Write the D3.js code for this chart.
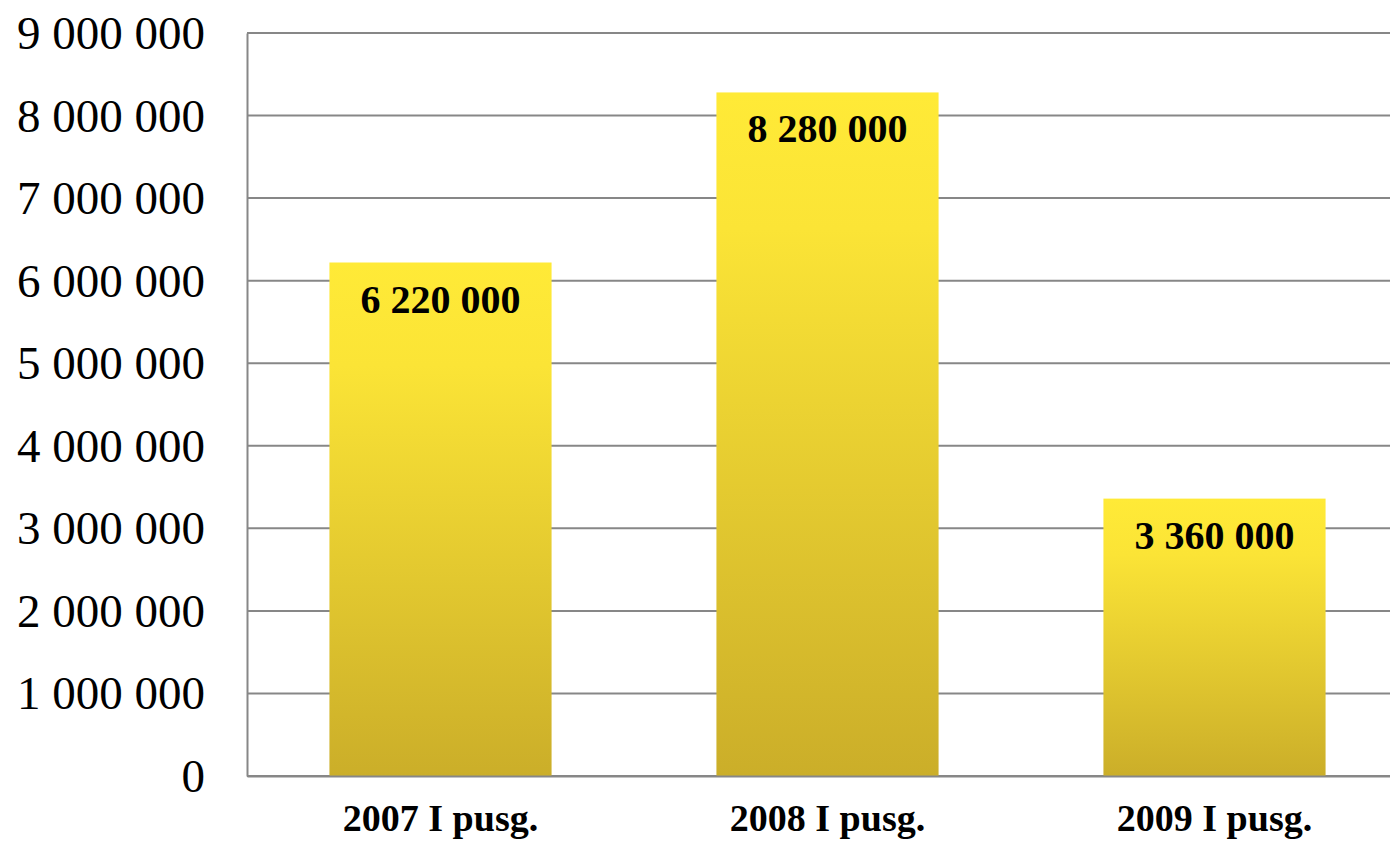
<!DOCTYPE html>
<html>
<head>
<meta charset="utf-8">
<script src="https://cdn.jsdelivr.net/npm/d3@7"></script>
<style>
  body { margin: 0; background: #fff; }
  svg { display: block; font-family: "Liberation Serif", "Times New Roman", serif; }
</style>
</head>
<body>
<div id="chart"></div>
<script>
const categories = ["2007 I pusg.", "2008 I pusg.", "2009 I pusg."];
const values = [6220000, 8280000, 3360000];
const yTicks = [0, 1000000, 2000000, 3000000, 4000000, 5000000, 6000000, 7000000, 8000000, 9000000];

const fullWidth = 1390;
const fullHeight = 858;
const margin = { top: 33, right: 0, bottom: 82, left: 247 };
const width = 1161; // plot runs a bit past the right edge, as in the original
const height = fullHeight - margin.top - margin.bottom;

// thousands separated by spaces
const fmt = v => d3.format(",")(v).replace(/,/g, " ");

const root = d3.select("#chart")
  .append("svg")
  .attr("width", fullWidth)
  .attr("height", fullHeight);

const grad = root.append("defs")
  .append("linearGradient")
  .attr("id", "barFill")
  .attr("x1", 0).attr("y1", 0).attr("x2", 0).attr("y2", 1);
grad.append("stop").attr("offset", "0%").attr("stop-color", "#ffea37");
grad.append("stop").attr("offset", "20%").attr("stop-color", "#fbe436");
grad.append("stop").attr("offset", "100%").attr("stop-color", "#cbae29");

const svg = root.append("g")
  .attr("transform", `translate(${margin.left},${margin.top})`);

const x = d3.scaleBand()
  .domain(categories)
  .range([0, width])
  .paddingInner(0.426)
  .paddingOuter(0.213);

const y = d3.scaleLinear()
  .domain([0, 9000000])
  .range([height, 0]);

// gridlines
svg.append("g")
  .selectAll("line")
  .data(yTicks)
  .enter()
  .append("line")
  .attr("x1", 0)
  .attr("x2", width)
  .attr("y1", d => y(d))
  .attr("y2", d => y(d))
  .attr("stroke", "#878787")
  .attr("stroke-width", 2);

// y axis
const yAxis = svg.append("g")
  .call(d3.axisLeft(y).tickValues(yTicks).tickFormat(fmt).tickSize(0).tickPadding(42));
yAxis.select(".domain").attr("stroke", "#878787").attr("stroke-width", 2);
yAxis.selectAll("text")
  .style("font-family", "Liberation Serif, serif")
  .style("font-size", "47px")
  .attr("fill", "#000")
  .attr("dy", "0.33em");

// bars
svg.selectAll("rect.bar")
  .data(values)
  .enter()
  .append("rect")
  .attr("class", "bar")
  .attr("x", (d, i) => x(categories[i]))
  .attr("y", d => y(d))
  .attr("width", x.bandwidth())
  .attr("height", d => height - y(d))
  .attr("fill", "url(#barFill)");

// x axis
const xAxis = svg.append("g")
  .attr("transform", `translate(0,${height})`)
  .call(d3.axisBottom(x).tickSize(0).tickPadding(28));
xAxis.select(".domain").attr("stroke", "#878787").attr("stroke-width", 2);
xAxis.selectAll("text")
  .style("font-family", "Liberation Serif, serif")
  .style("font-size", "38px")
  .style("font-weight", "bold")
  .attr("fill", "#000");

// value labels
svg.selectAll("text.value")
  .data(values)
  .enter()
  .append("text")
  .attr("class", "value")
  .attr("x", (d, i) => x(categories[i]) + x.bandwidth() / 2)
  .attr("y", d => y(d) + 50)
  .attr("text-anchor", "middle")
  .style("font-size", "40px")
  .style("font-weight", "bold")
  .text(fmt);
</script>
</body>
</html>
